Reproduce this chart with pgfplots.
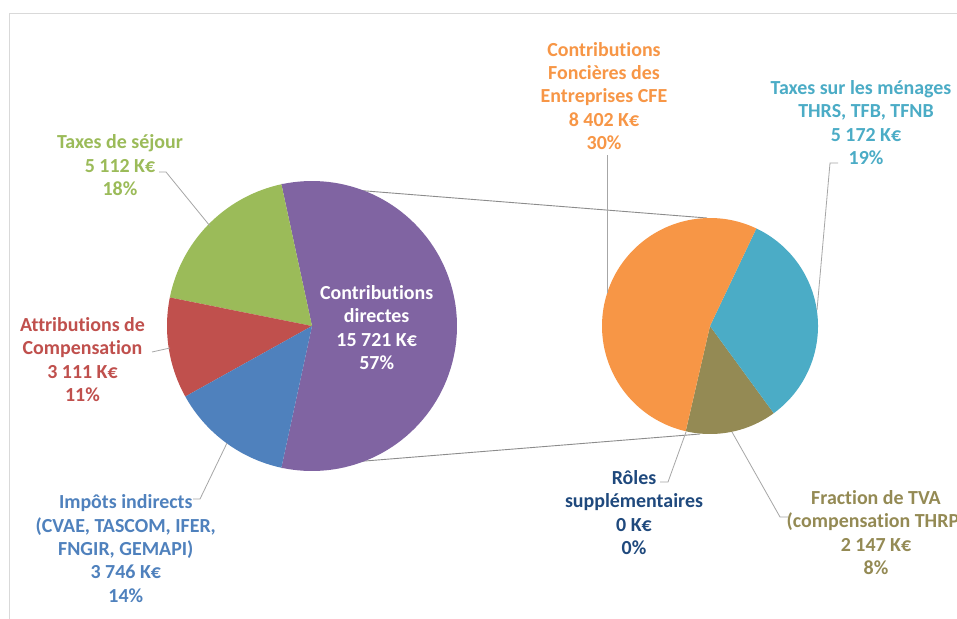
\documentclass[border=0pt]{standalone}
\usepackage{pgfplots}
\pgfplotsset{compat=1.18}
\usepackage{fontspec}
\setmainfont{Carlito}[Ligatures=NoCommon]

\definecolor{cGreen}{HTML}{9BBB59}
\definecolor{cRed}{HTML}{C0504D}
\definecolor{cBlue}{HTML}{4F81BD}
\definecolor{cPurple}{HTML}{8064A2}
\definecolor{cOrange}{HTML}{F79646}
\definecolor{cTeal}{HTML}{4BACC6}
\definecolor{cOlive}{HTML}{948A54}
\definecolor{cNavy}{HTML}{1F497D}
\definecolor{cLead}{HTML}{A6A6A6}

% values in K€
\def\vSej{5112}   % Taxes de séjour
\def\vAtt{3111}   % Attributions de Compensation
\def\vImp{3746}   % Impôts indirects
\def\vDir{15721}  % Contributions directes (= second pie)
\def\vCfe{8402}   % CFE
\def\vMen{5172}   % Taxes sur les ménages
\def\vTva{2147}   % Fraction de TVA
\def\vRol{0}      % Rôles supplémentaires

% pie geometry, pixel units
\def\cxL{312}\def\cyL{326}\def\rL{145}
\def\cxR{710}\def\cyR{326}\def\rR{108}

\edef\totL{\fpeval{\vSej+\vAtt+\vImp+\vDir}}
\edef\totR{\fpeval{\vCfe+\vMen+\vTva+\vRol}}
\edef\aA{\fpeval{round(-180*\vDir/\totL,3)}}
\edef\aB{\fpeval{round(180*\vDir/\totL,3)}}
\edef\aC{\fpeval{round(\aB+360*\vSej/\totL,3)}}
\edef\aD{\fpeval{round(\aC+360*\vAtt/\totL,3)}}
\edef\aE{\fpeval{round(\aA+360,3)}}
\edef\bA{-103}
\edef\bB{\fpeval{round(\bA+360*\vTva/\totR,3)}}
\edef\bC{\fpeval{round(\bB+360*\vMen/\totR,3)}}
\edef\bD{\fpeval{round(\bA+360,3)}}
% connector end points on the first pie
\edef\pX{\fpeval{round(\cxL+\rL*cosd(\aB),2)}}
\edef\pYt{\fpeval{round(\cyL-\rL*sind(\aB),2)}}
\edef\pYb{\fpeval{round(\cyL+\rL*sind(\aB),2)}}

\newcommand{\slice}[6]{%
  \addplot[fill=#6, draw=none, domain=#4:#5, samples=90, variable=\t]
    ({#1+#3*cos(\t)}, {#2-#3*sin(\t)}) -- (axis cs:#1,#2) -- cycle;
}
\tikzset{lbl/.style={align=center, inner sep=0pt, font=\fontsize{20}{23.5}\selectfont\bfseries}}

\begin{document}
\begin{tikzpicture}
\begin{axis}[
    width=957bp, height=619bp, scale only axis,
    xmin=0, xmax=957, ymin=0, ymax=619,
    y dir=reverse,
    hide axis,
    clip=true,
]
    \path[fill=white] (rel axis cs:0,0) rectangle (rel axis cs:1,1);
    % light frame
    \draw[line width=1bp, black!15] (axis cs:9.5,640) -- (axis cs:9.5,13.5) -- (axis cs:980,13.5);

    % connector lines between the two pies
    \draw[line width=0.9bp, black!45] (axis cs:\pX,\pYt) -- (axis cs:707,218);
    \draw[line width=0.9bp, black!45] (axis cs:\pX,\pYb) -- (axis cs:700,434);

    % first pie
    \slice{\cxL}{\cyL}{\rL}{\aA}{\aB}{cPurple}
    \slice{\cxL}{\cyL}{\rL}{\aB}{\aC}{cGreen}
    \slice{\cxL}{\cyL}{\rL}{\aC}{\aD}{cRed}
    \slice{\cxL}{\cyL}{\rL}{\aD}{\aE}{cBlue}

    % second pie
    \slice{\cxR}{\cyR}{\rR}{\bA}{\bB}{cOlive}
    \slice{\cxR}{\cyR}{\rR}{\bB}{\bC}{cTeal}
    \slice{\cxR}{\cyR}{\rR}{\bC}{\bD}{cOrange}

    % leader lines
    \draw[cLead, line width=0.8bp] (axis cs:159,172) -- (axis cs:166,172) -- (axis cs:210,226);
    \draw[cLead, line width=0.8bp] (axis cs:152,352) -- (axis cs:170,348);
    \draw[cLead, line width=0.8bp] (axis cs:193,499) -- (axis cs:200,499) -- (axis cs:227,443);
    \draw[cLead, line width=0.8bp] (axis cs:607,155) -- (axis cs:607,293);
    \draw[cLead, line width=0.8bp] (axis cs:838,163) -- (axis cs:830,163) -- (axis cs:817,310);
    \draw[cLead, line width=0.8bp] (axis cs:660,482) -- (axis cs:668,482) -- (axis cs:686,432);
    \draw[cLead, line width=0.8bp] (axis cs:732,432) -- (axis cs:780,517) -- (axis cs:788,517);

    % labels
    \node[lbl, text=cGreen] at (axis cs:120,165.5) {Taxes de séjour\\5 112 K€\\18\%};
    \node[lbl, text=cRed] at (axis cs:82.5,359.4) {Attributions de\\Compensation\\3 111 K€\\11\%};
    \node[lbl, text=cBlue] at (axis cs:125.8,548.6) {Impôts indirects\\(CVAE, TASCOM, IFER,\\FNGIR, GEMAPI)\\3 746 K€\\14\%};
    \node[lbl, text=white] at (axis cs:376.7,327.4) {Contributions\\directes\\15 721 K€\\57\%};
    \node[lbl, text=cOrange] at (axis cs:604,96) {Contributions\\Foncières des\\Entreprises CFE\\8 402 K€\\30\%};
    \node[lbl, text=cTeal] at (axis cs:866,122.4) {Taxes sur les ménages :\\THRS, TFB, TFNB\\5 172 K€\\19\%};
    \node[lbl, text=cNavy] at (axis cs:634,512.4) {Rôles\\supplémentaires\\0 K€\\0\%};
    \node[lbl, text=cOlive] at (axis cs:876,532.4) {Fraction de TVA\\(compensation THRP)\\2 147 K€\\8\%};
\end{axis}
\end{tikzpicture}
\end{document}
